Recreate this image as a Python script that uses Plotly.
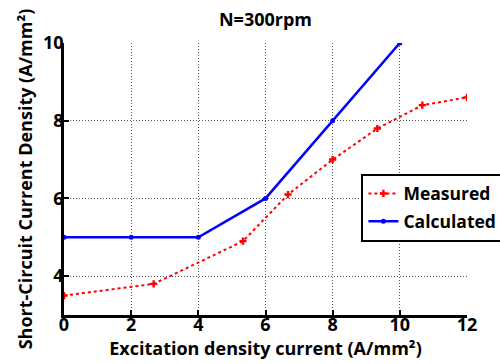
import plotly.graph_objects as go

meas_x = [0, 2.67, 5.33, 6.67, 8, 9.33, 10.67, 12]
meas_y = [3.5, 3.8, 4.9, 6.1, 7.0, 7.8, 8.4, 8.6]
calc_x = [0, 2, 4, 6, 8, 10]
calc_y = [5, 5, 5, 6, 8, 10]
x_ticks = [0, 2, 4, 6, 8, 10, 12]
y_ticks = [4, 6, 8, 10]

FONT = "Open Sans"

fig = go.Figure()
fig.add_trace(go.Scatter(
    x=meas_x, y=meas_y, name="Measured", mode="lines+markers",
    line=dict(color="#ff0000", width=2, dash="dot"),
    marker=dict(symbol="cross", size=6, color="#ff0000"),
    legendgroup="m",
))
fig.add_trace(go.Scatter(
    x=calc_x, y=calc_y, name="Calculated", mode="lines+markers",
    line=dict(color="#0000ff", width=2.5),
    marker=dict(symbol="circle", size=5, color="#0000ff"),
    legendgroup="c",
))

axis_common = dict(
    showgrid=True, gridcolor="#555555", griddash="1px,2px", gridwidth=1,
    showline=True, linecolor="black", linewidth=2.5, mirror=False,
    ticks="inside", ticklen=5, tickwidth=2, tickcolor="black",
    zeroline=False, automargin=False,
    tickfont=dict(family=FONT, size=18, color="black", weight="bold"),
)

fig.update_layout(
    template="none",
    width=500, height=364,
    margin=dict(l=64, r=33, t=43, b=49, autoexpand=False),
    paper_bgcolor="white", plot_bgcolor="white",
    title=dict(text="<b>N=300rpm</b>", x=0.531, xanchor="center", y=0.945, yanchor="middle",
               font=dict(family=FONT, size=18, color="black")),
    xaxis=dict(range=[0, 12], tickvals=x_ticks, ticklabelstandoff=-8,
               title=dict(text="<b>Excitation density current (A/mm²)</b>", standoff=0,
                          font=dict(family=FONT, size=18, color="black")),
               **axis_common),
    yaxis=dict(range=[3, 10], tickvals=y_ticks, ticklabelstandoff=-6,
               title=dict(text="<b>Short-Circuit Current Density (A/mm²)</b>", standoff=6,
                          font=dict(family=FONT, size=18, color="black")),
               **axis_common),
    legend=dict(x=0.738, y=0.52, xanchor="left", yanchor="top",
                bordercolor="black", borderwidth=2, bgcolor="white",
                font=dict(family=FONT, size=17.5, color="black", weight="bold"),
                itemwidth=30, traceorder="grouped", tracegroupgap=2),
    showlegend=True,
)

fig.write_html("out.html", config={"displayModeBar": False},
               post_script="document.body.style.margin='0';")
